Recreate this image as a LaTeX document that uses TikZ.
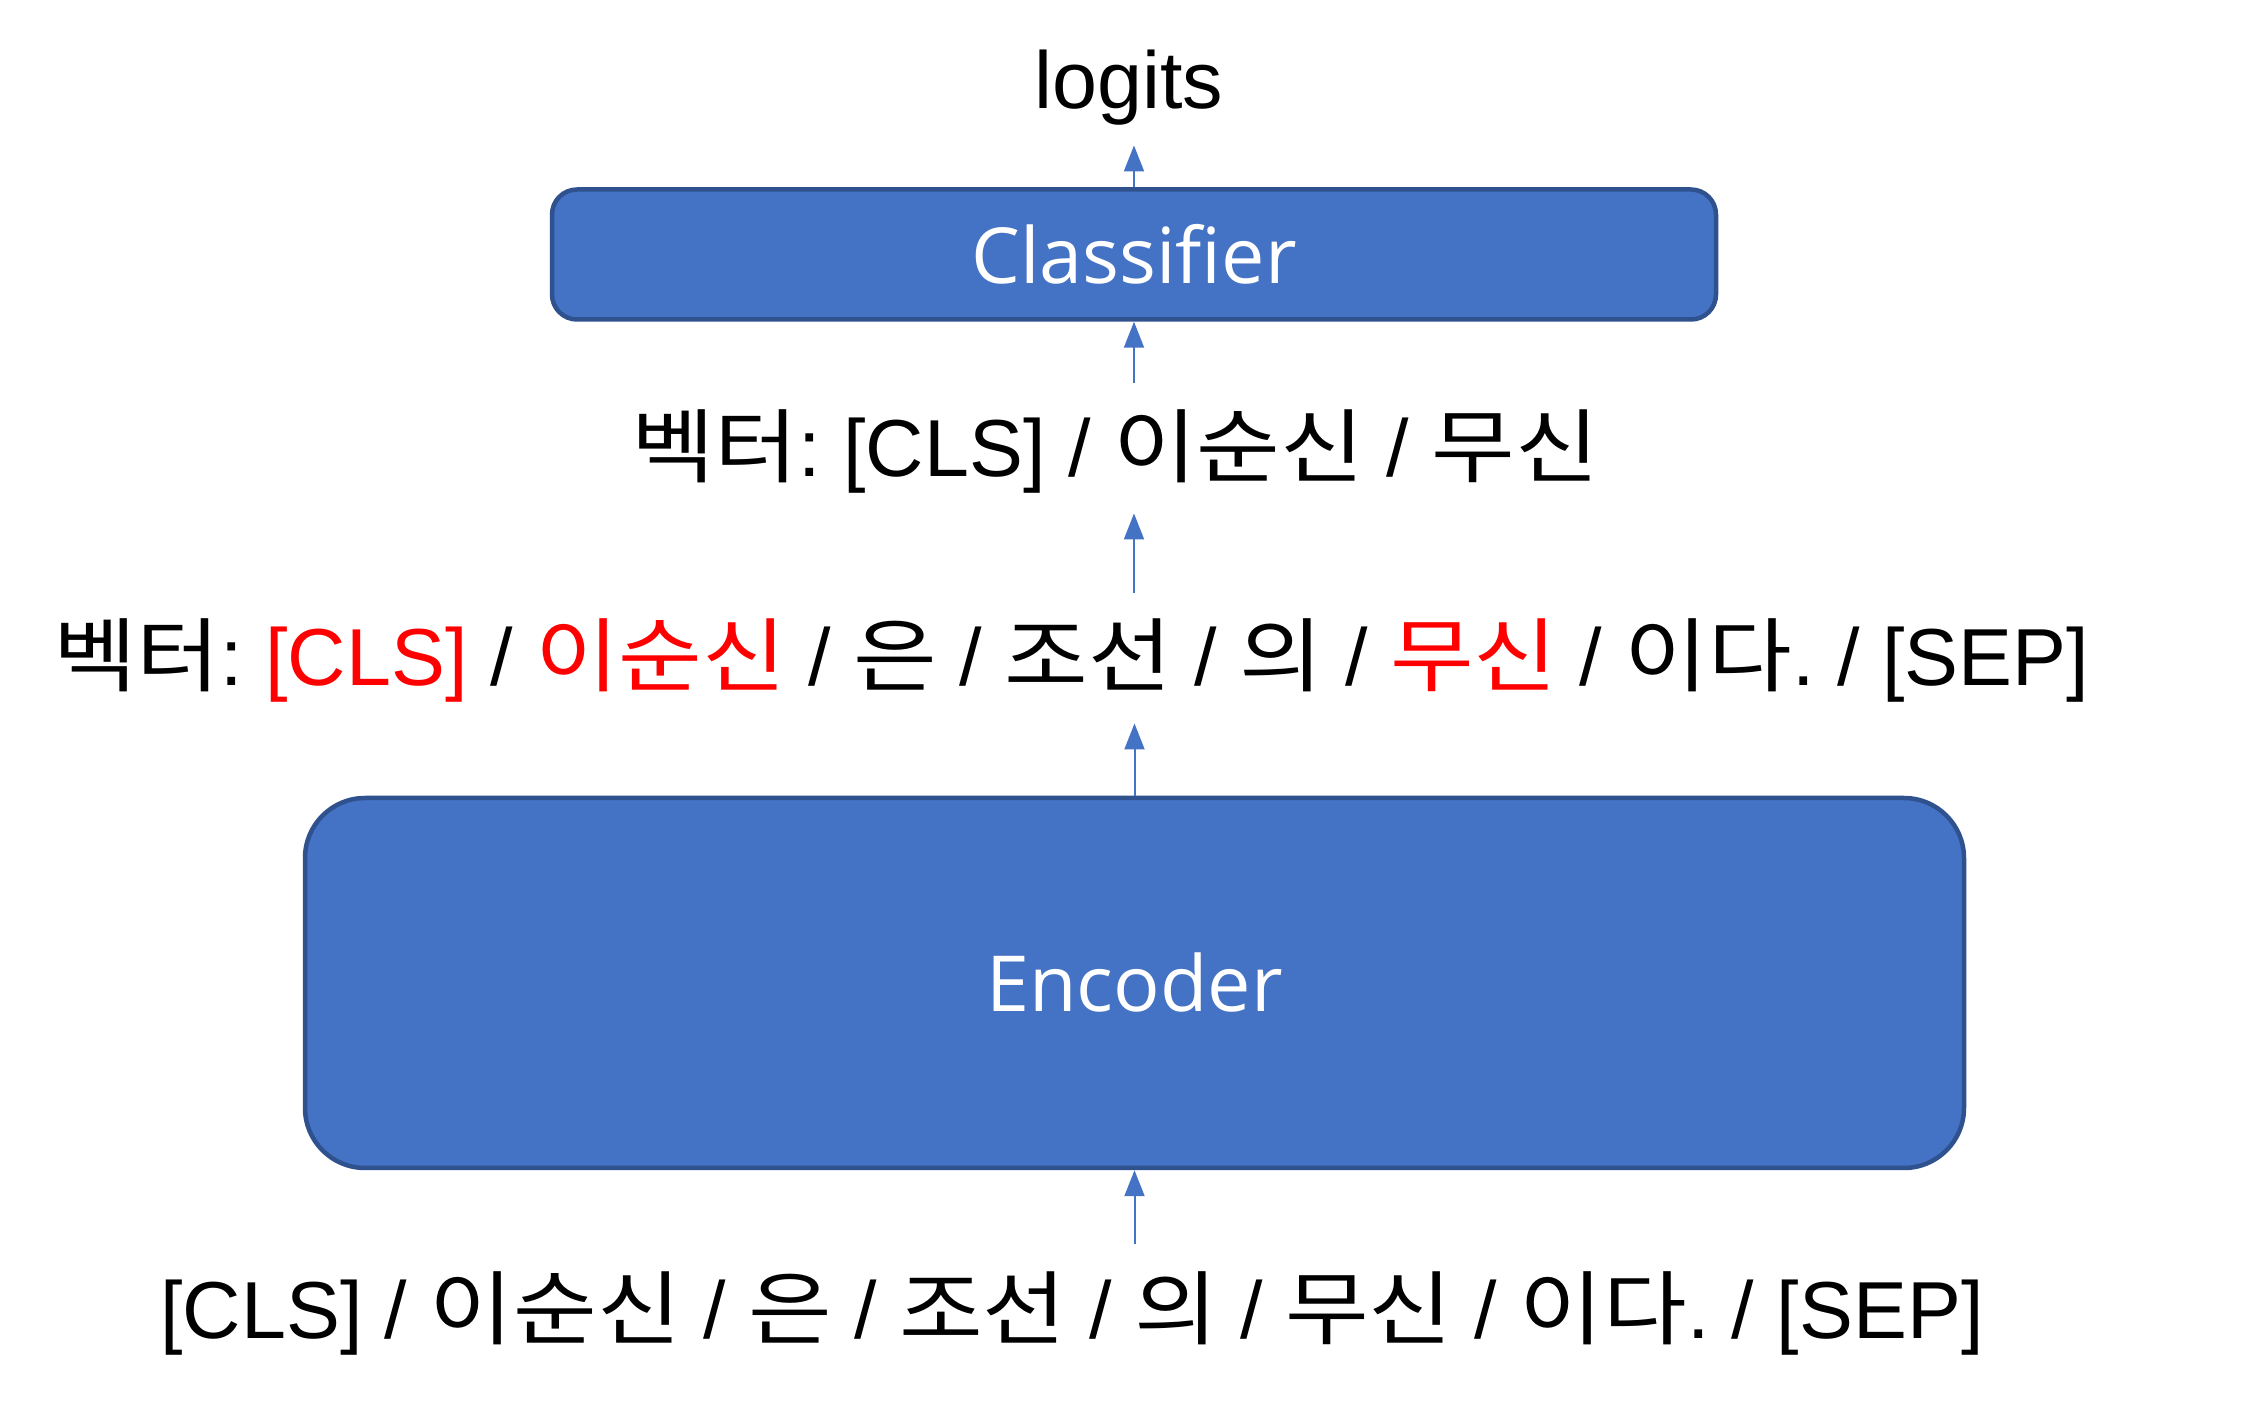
\documentclass[tikz,border=0pt]{standalone}
\usepackage{fontspec}
\setmainfont{Liberation Sans}
\newfontfamily\krfont[FakeStretch=1.125]{Noto Sans CJK KR}
\newfontfamily\boxfont{Open Sans}
\usetikzlibrary{arrows.meta}
\definecolor{boxblue}{HTML}{4472C4}
\definecolor{boxedge}{HTML}{2F528F}
\newcommand{\hg}[1]{{\krfont #1}}
\newcommand{\rd}[1]{{\color{red}#1}}
\frenchspacing
\begin{document}
\begin{tikzpicture}[x=0.1mm,y=-0.1mm,
  txt/.style={inner sep=0pt, anchor=base, font=\fontsize{23pt}{28pt}\selectfont},
  blk/.style={draw=boxedge, fill=boxblue, line width=0.45mm, text=white,
    font=\boxfont\fontsize{22pt}{26pt}\selectfont, inner sep=0pt},
  arr/.style={draw=boxblue, line width=0.2mm, -{Triangle[length=2.6mm,width=2mm]}},
]
\useasboundingbox (0,0) rectangle (2251,1408);

\node[txt] (logits) at (1129,109) {logits};

\node[blk, minimum width=116.4mm, minimum height=13mm, rounded corners=2.5mm]
  (cls) at (1134,254.5) {Classifier};

\node[txt] (v1) at (1115,477) {\frenchspacing\hg{벡터}: [CLS] / \hg{이순신} / \hg{무신}};

\node[txt] (v2) at (1071,686) {\frenchspacing\hg{벡터}: \rd{[CLS]} / \rd{\hg{이순신}} / \hg{은} / \hg{조선} / \hg{의} / \rd{\hg{무신}} / \hg{이다}. / [SEP]};

\node[blk, minimum width=165.9mm, minimum height=37mm, rounded corners=6mm]
  (enc) at (1134.5,983) {Encoder};

\node[txt] (inp) at (1072,1338) {\frenchspacing[CLS] / \hg{이순신} / \hg{은} / \hg{조선} / \hg{의} / \hg{무신} / \hg{이다}. / [SEP]};

\draw[arr, shorten >=1.9mm] (cls.north) -- (cls.north |- logits.south);
\draw[arr, shorten <=2.6mm] (cls.south |- v1.north) -- (cls.south);
\draw[arr, shorten <=2.5mm, shorten >=1.9mm] (cls.south |- v2.north) -- (cls.south |- v1.south);
\draw[arr, shorten >=2mm] (enc.north) -- (enc.north |- v2.south);
\draw[arr, shorten <=2.6mm] (enc.south |- inp.north) -- (enc.south);
\end{tikzpicture}
\end{document}
